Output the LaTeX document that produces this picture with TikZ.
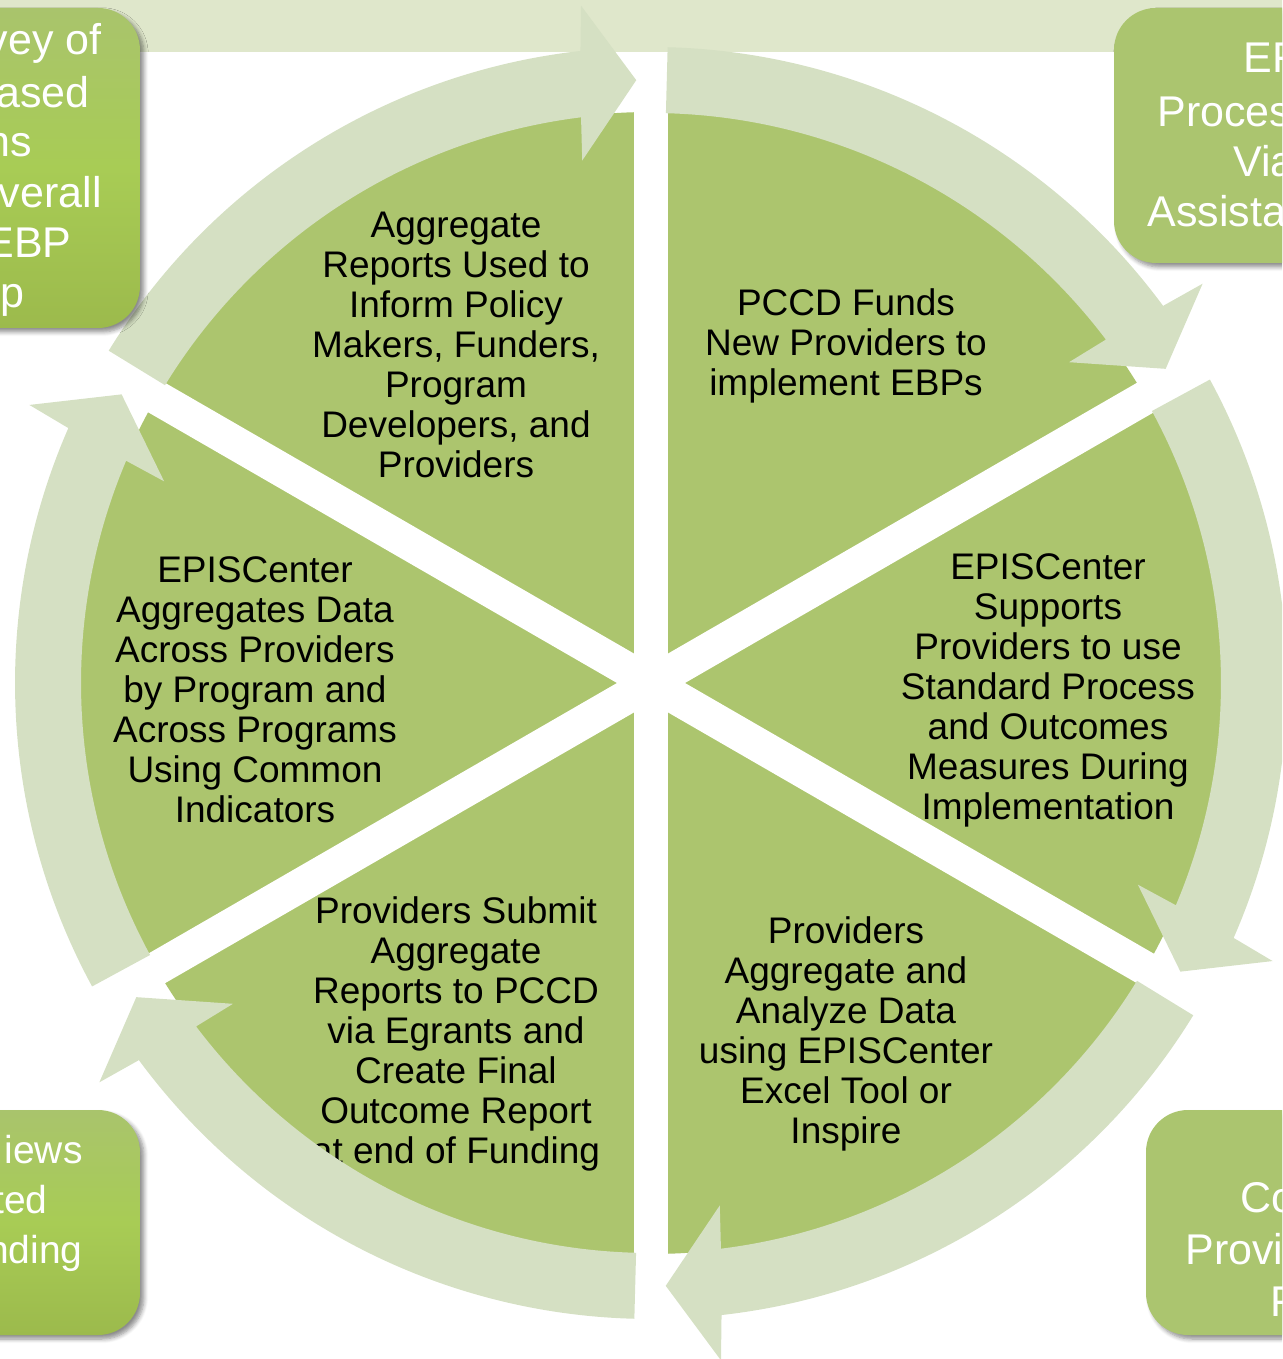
\documentclass[tikz,border=0pt]{standalone}
\usepackage{fontspec}
\setmainfont{Liberation Sans}
\usetikzlibrary{shadows.blur}

\definecolor{sectorgreen}{HTML}{ACC56E}
\definecolor{arrowgreen}{HTML}{D5E0C3}
\definecolor{bandgreen}{HTML}{DFE7CB}
\definecolor{boxgreen}{HTML}{ABC56F}
\definecolor{limetop}{HTML}{A9C46C}
\definecolor{limemid}{HTML}{A8CC55}
\definecolor{limebot}{HTML}{9CBA4C}

\begin{document}
\begin{tikzpicture}[
            x = 0.5pt, y = 0.5pt, % one unit = one pixel of the slide
            sector/.style = {fill=sectorgreen},
            gap/.style = {draw=white, line width=17pt}, % white spokes
            ringarrow/.style = {fill=arrowgreen},
            steptext/.style = {align=center, inner sep=0pt,
                font=\fontsize{18.5}{20}\selectfont},
            box/.style = {rounded corners=21pt,
                blur shadow={shadow xshift=2pt, shadow yshift=-2pt,
                shadow opacity=45, shadow blur steps=6}},
            boxtext/.style = {text=white, inner sep=0pt,
                font=\fontsize{21.5}{25}\selectfont},
            boxtextsm/.style = {boxtext, font=\fontsize{19.5}{25}\selectfont}
            ]
            \useasboundingbox (-651,-676) rectangle (631,683);
            \clip (-651,-676) rectangle (631,683);

            % band along the top edge
            \fill[bandgreen] (-660,631) rectangle (640,690);

            % the pie and its spokes
            \fill[sector] (0,0) circle (571);
            \foreach \a in {90,30,150}
                \draw[gap] (\a:576) -- (\a+180:576);

            \node[steptext] (fund) at (195,337) {PCCD Funds\\New Providers to\\implement EBPs};
            \node[steptext] (support) at (397,-7) {EPISCenter\\Supports\\Providers to use\\Standard Process\\and Outcomes\\Measures During\\Implementation};
            \node[steptext] (analyze) at (195,-351) {Providers\\Aggregate and\\Analyze Data\\using EPISCenter\\Excel Tool or\\Inspire};
            \node[steptext] (submit) at (-195,-351) {Providers Submit\\Aggregate\\Reports to PCCD\\via Egrants and\\Create Final\\Outcome Report\\at end of Funding};
            \node[steptext] (collect) at (-396,-7) {EPISCenter\\Aggregates Data\\Across Providers\\by Program and\\Across Programs\\Using Common\\Indicators};
            \node[steptext] (inform) at (-195,338) {Aggregate\\Reports Used to\\Inform Policy\\Makers, Funders,\\Program\\Developers, and\\Providers};

            % curved arrows round the pie, clockwise
            \foreach \u in {90,30,-30,-90,-150,150}{
                \pgfmathsetmacro{\tailang}{\u-1.5}
                \pgfmathsetmacro{\tipang}{\u-58.6}
                \pgfmathsetmacro{\ina}{\tipang+5.65}
                \pgfmathsetmacro{\inb}{\tipang+6.1}
                \pgfmathsetmacro{\outb}{\tipang+4.5}
                \pgfmathsetmacro{\outa}{\tipang+4.97}
                \fill[ringarrow] (\tailang:570)
                    arc[start angle=\tailang, end angle=\ina, radius=570]
                    -- (\inb:527) -- (\tipang:603) -- (\outb:681) -- (\outa:636)
                    arc[start angle=\outa, end angle=\tailang, radius=636]
                    -- cycle;
            }

            % boxes at the corners, cut by the slide edge
            \shade[box, top color=limetop, bottom color=limebot, middle color=limemid]
                (-800,355) rectangle (-511,675);
            \shade[box, top color=limetop, bottom color=limebot, middle color=limemid]
                (-800,-652) rectangle (-511,-427);
            \fill[box, boxgreen] (463,420) rectangle (800,675);
            \fill[box, boxgreen] (495,-652) rectangle (800,-427);

            \node[boxtext, anchor=base east] (tl1) at (-549,628) {vey of};
            \node[boxtext, anchor=base east] (tl2) at (-561,575) {ased};
            \node[boxtext, anchor=base east] (tl3) at (-619,526) {ns};
            \node[boxtext, anchor=base east] (tl4) at (-549,475) {verall};
            \node[boxtext, anchor=base east] (tl5) at (-579,425) {EBP};
            \node[boxtext, anchor=base east] (tl6) at (-626,375) {p};

            \node[boxtext, anchor=base west] (tr1) at (592,610) {EF};
            \node[boxtext, anchor=base west] (tr2) at (506,556) {Proces};
            \node[boxtext, anchor=base west] (tr3) at (582,506) {Via};
            \node[boxtext, anchor=base west] (tr4) at (496,456) {Assista};

            \node[boxtextsm, anchor=base east] (bl1) at (-568,-480) {iews};
            \node[boxtextsm, anchor=base east] (bl2) at (-603,-530) {ted};
            \node[boxtextsm, anchor=base east] (bl3) at (-568,-580) {nding};

            \node[boxtext, anchor=base west] (br1) at (589,-529) {Co};
            \node[boxtext, anchor=base west] (br2) at (534,-581) {Provi};
            \node[boxtext, anchor=base west] (br3) at (619,-633) {F};
        \end{tikzpicture}
\end{document}
